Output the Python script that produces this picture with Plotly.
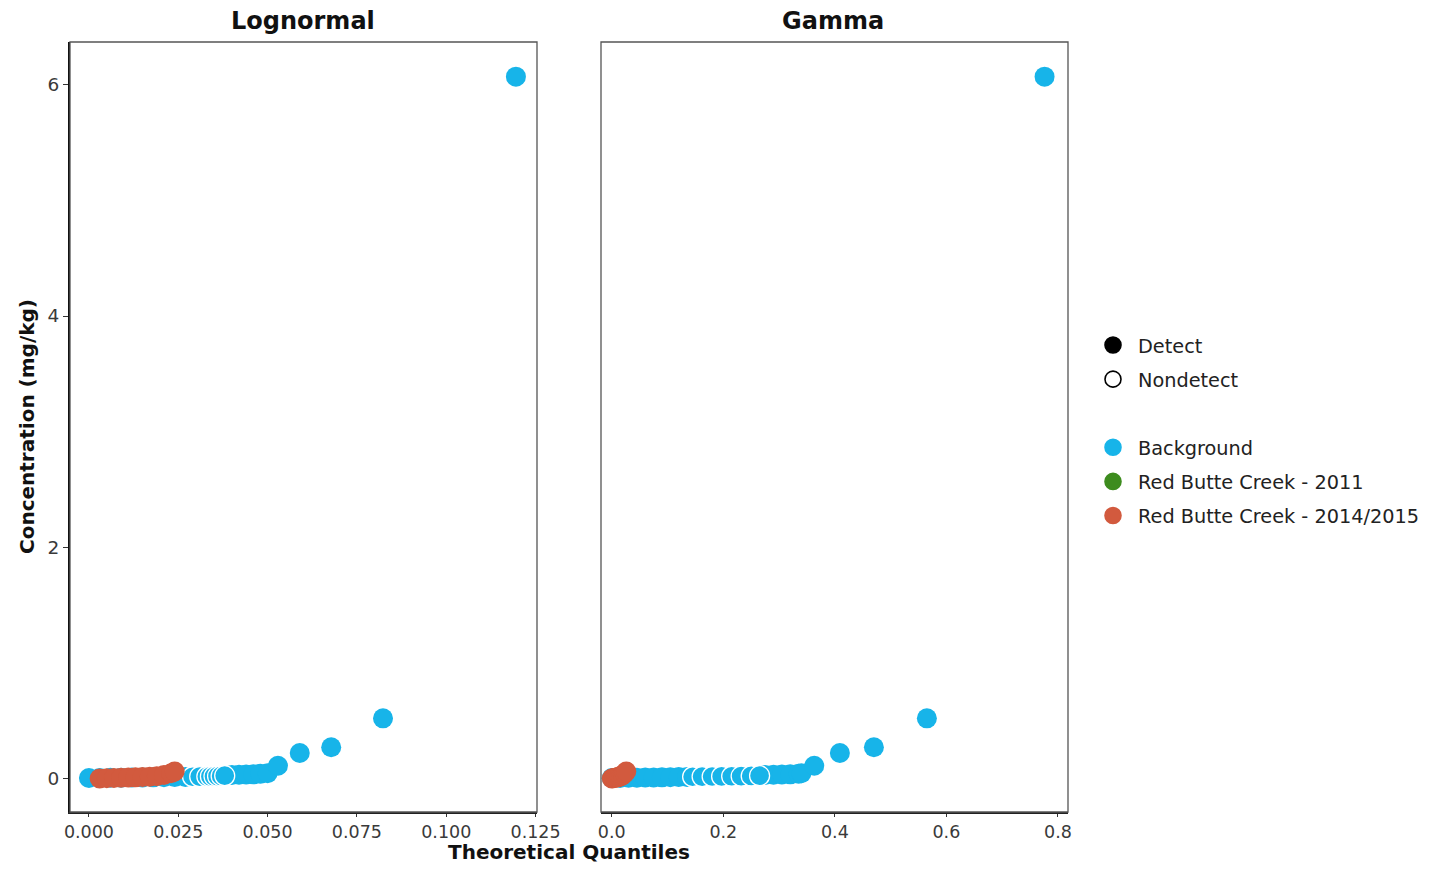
import plotly.graph_objects as go

BLUE = "#17B4E9"
GREEN = "#3D8C1E"
RED = "#D25A3E"

# ---- data ----
# Background detects: concentration (mg/kg)
bg_det_y = [0.004, 0.005, 0.006, 0.007, 0.008, 0.009, 0.010, 0.011, 0.012, 0.013,
            0.030, 0.032, 0.034, 0.036, 0.040, 0.045,
            0.11, 0.22, 0.27, 0.52, 6.07]
bg_det_x_logn = [0.000, 0.003, 0.006, 0.009, 0.012, 0.015, 0.018, 0.021, 0.024, 0.027,
                 0.040, 0.042, 0.044, 0.046, 0.048, 0.050,
                 0.0529, 0.0590, 0.0678, 0.0823, 0.1195]
bg_det_x_gamma = [0.000, 0.015, 0.030, 0.045, 0.060, 0.075, 0.090, 0.105, 0.120, 0.135,
                  0.275, 0.290, 0.305, 0.320, 0.335, 0.340,
                  0.363, 0.409, 0.470, 0.565, 0.776]
# Background nondetects
bg_nd_y = [0.015, 0.016, 0.017, 0.018, 0.019, 0.020, 0.022, 0.024]
bg_nd_x_logn = [0.029, 0.031, 0.033, 0.034, 0.035, 0.036, 0.037, 0.038]
bg_nd_x_gamma = [0.145, 0.162, 0.180, 0.197, 0.215, 0.232, 0.250, 0.265]
# Red Butte Creek 2014/2015 detects
rbc_y = [0.000, 0.002, 0.004, 0.006, 0.008, 0.010, 0.012, 0.015, 0.020, 0.030, 0.045, 0.060]
rbc_x_logn = [0.003, 0.005, 0.007, 0.009, 0.011, 0.013, 0.015, 0.017, 0.019, 0.021, 0.023, 0.024]
rbc_x_gamma = [0.000, 0.002, 0.004, 0.006, 0.008, 0.010, 0.012, 0.014, 0.017, 0.020, 0.023, 0.026]

panel_titles = ["Lognormal", "Gamma"]
x_ticks_logn = [0.000, 0.025, 0.050, 0.075, 0.100, 0.125]
x_ticks_gamma = [0.0, 0.2, 0.4, 0.6, 0.8]
y_ticks = [0, 2, 4, 6]

# page body has an 8px margin: figure is drawn at (8, 8)
OFF = 8
W, H = 1433 - 2 * OFF, 871 - 2 * OFF
def px(x): return (x - OFF) / W
def py(y): return 1 - (y - OFF) / H

FONT = "DejaVu Sans"
fig = go.Figure()
MS = 20

def add_panel(xa, ya, bgx, ndx, rx):
    fig.add_trace(go.Scatter(x=bgx, y=bg_det_y, mode="markers", xaxis=xa, yaxis=ya,
                             marker=dict(size=MS, color=BLUE, line=dict(width=0)),
                             showlegend=False, hoverinfo="skip"))
    fig.add_trace(go.Scatter(x=ndx, y=bg_nd_y, mode="markers", xaxis=xa, yaxis=ya,
                             marker=dict(size=MS, color=BLUE, line=dict(width=1.3, color="white")),
                             showlegend=False, hoverinfo="skip"))
    fig.add_trace(go.Scatter(x=rx, y=rbc_y, mode="markers", xaxis=xa, yaxis=ya,
                             marker=dict(size=MS, color=RED, line=dict(width=0)),
                             showlegend=False, hoverinfo="skip"))

add_panel("x", "y", bg_det_x_logn, bg_nd_x_logn, rbc_x_logn)
add_panel("x2", "y2", bg_det_x_gamma, bg_nd_x_gamma, rbc_x_gamma)

# legend entries (blank entry gives the gap between the two keys)
legend_items = [("Detect", "circle", "black"),
                ("Nondetect", "circle-open", "black"),
                (" ", "circle", "rgba(0,0,0,0)"),
                ("Background", "circle", BLUE),
                ("Red Butte Creek - 2011", "circle", GREEN),
                ("Red Butte Creek - 2014/2015", "circle", RED)]
for i, (name, sym, col) in enumerate(legend_items):
    fig.add_trace(go.Scatter(x=[None], y=[None], mode="markers", name=name, legendgroup="g%d" % i,
                             marker=dict(symbol=sym, color=col, size=20,
                                         line=dict(width=1.6, color=col))))

x1d = [px(70), px(537)]
x2d = [px(601), px(1068)]
yd = [py(812), py(42)]

tickfont = dict(family=FONT, size=17.5, color="#3A3A3A")
common_x = dict(showgrid=False, zeroline=False, ticks="outside", ticklen=3, tickwidth=1.2,
                tickcolor="#333333", showline=True, linecolor="#222222", linewidth=1.5,
                tickfont=tickfont, mirror=False, automargin=False)

fig.update_layout(
    width=W, height=H, margin=dict(l=0, r=0, t=0, b=0, autoexpand=False),
    paper_bgcolor="white", plot_bgcolor="white",
    xaxis=dict(domain=x1d, range=[-0.0053, 0.1254], tickvals=x_ticks_logn,
               ticktext=["0.000", "0.025", "0.050", "0.075", "0.100", "0.125"], anchor="y", **common_x),
    yaxis=dict(domain=yd, range=[-0.29, 6.37], tickvals=y_ticks, ticks="outside", ticklen=5,
               tickwidth=1.2, tickcolor="#333333", showline=True, linecolor="#111111", linewidth=2,
               showgrid=False, zeroline=False, tickfont=dict(family=FONT, size=18.5, color="#3A3A3A"),
               anchor="x", automargin=False),
    xaxis2=dict(domain=x2d, range=[-0.0193, 0.818], tickvals=x_ticks_gamma,
                ticktext=["0.0", "0.2", "0.4", "0.6", "0.8"], anchor="y2", **common_x),
    yaxis2=dict(domain=yd, range=[-0.29, 6.37], showticklabels=False, ticks="",
                showline=False, showgrid=False, zeroline=False, anchor="x2", automargin=False),
    legend=dict(x=px(1088), y=py(326), xanchor="left", yanchor="top",
                font=dict(family=FONT, size=19.3, color="#222222"),
                traceorder="grouped", tracegroupgap=6, itemsizing="trace", itemwidth=40,
                bgcolor="rgba(0,0,0,0)", borderwidth=0),
)

# panel borders
for xd in (x1d, x2d):
    fig.add_shape(type="rect", xref="paper", yref="paper", x0=xd[0], x1=xd[1], y0=yd[0], y1=yd[1],
                  line=dict(color="#555555", width=1.3), layer="above")

# titles
def ann(text, x, y, size, angle=0):
    fig.add_annotation(text=text, x=px(x), y=py(y), xref="paper", yref="paper",
                       xanchor="center", yanchor="middle", showarrow=False, textangle=angle,
                       font=dict(family=FONT, size=size, color="#111111"))

for t, xc in zip(panel_titles, [303, 833]):
    ann("<b>%s</b>" % t, xc, 21, 24)
ann("<b>Theoretical Quantiles</b>", 569, 852, 20)
ann("<b>Concentration (mg/kg)</b>", 27, 427, 20, -90)

fig.write_html("out.html")
